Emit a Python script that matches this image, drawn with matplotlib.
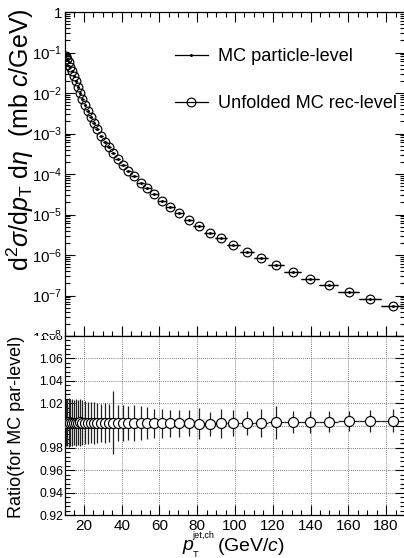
import numpy as np
import matplotlib
matplotlib.use("Agg")
import matplotlib.pyplot as plt
from matplotlib.lines import Line2D
from matplotlib.ticker import FixedLocator, MultipleLocator, NullFormatter
from matplotlib.transforms import Bbox, TransformedBbox

plt.rcParams['font.family'] = ['Liberation Sans', 'DejaVu Sans']
plt.rcParams['mathtext.fontset'] = 'custom'
plt.rcParams['mathtext.rm'] = 'Liberation Sans'
plt.rcParams['mathtext.it'] = 'Liberation Sans:italic'
plt.rcParams['mathtext.sf'] = 'Liberation Sans'

# ============ Data ============
pt_edges = [10.0, 10.71, 11.47, 12.28, 13.15, 14.08, 15.08, 16.15, 17.30, 18.52,
            19.83, 21.24, 22.74, 24.36, 26.08, 27.93, 29.91, 32.03, 34.30, 36.73,
            39.33, 42.12, 45.11, 48.30, 51.73, 55.40, 59.32, 63.53, 68.03, 72.85,
            78.01, 83.54, 89.46, 95.80, 102.59, 109.87, 117.65, 125.99, 134.92,
            144.48, 154.72, 165.69, 177.43, 190.0]

xsec_particle = [8.34e-2, 6.92e-2, 5.70e-2, 4.46e-2, 3.41e-2, 2.57e-2, 1.93e-2,
                 1.374e-2, 1.00e-2, 7.11e-3, 5.14e-3, 3.66e-3, 2.60e-3, 1.79e-3,
                 1.29e-3, 8.83e-4, 6.28e-4, 4.54e-4, 3.30e-4, 2.34e-4, 1.70e-4,
                 1.21e-4, 8.73e-5, 6.10e-5, 4.39e-5, 3.13e-5, 2.15e-5, 1.50e-5,
                 1.06e-5, 7.45e-6, 5.08e-6, 3.56e-6, 2.57e-6, 1.79e-6, 1.21e-6,
                 8.24e-7, 5.75e-7, 3.87e-7, 2.60e-7, 1.82e-7, 1.24e-7, 8.20e-8,
                 5.60e-8]

ratio = [1.0026, 1.0024, 1.0027, 1.0025, 1.0023, 1.0026, 1.0024, 1.0025, 1.0027, 1.0024,
         1.0025, 1.0023, 1.0026, 1.0024, 1.0022, 1.0025, 1.0023, 1.0021, 1.0024, 1.0022,
         1.0020, 1.0022, 1.0019, 1.0020, 1.0021, 1.0019, 1.0020, 1.0018, 1.0019, 1.0020,
         1.0017, 1.0013, 1.0019, 1.0020, 1.0022, 1.0025, 1.0028, 1.0029, 1.0034, 1.0035,
         1.0037, 1.0040, 1.0043]

ratio_err = [0.021, 0.021, 0.022, 0.021, 0.021, 0.020, 0.021, 0.020, 0.021, 0.020,
             0.019, 0.019, 0.018, 0.019, 0.018, 0.017, 0.018, 0.017, 0.028, 0.016,
             0.016, 0.015, 0.016, 0.015, 0.014, 0.013, 0.013, 0.012, 0.012, 0.0117,
             0.0138, 0.0105, 0.0128, 0.0116, 0.011, 0.0125, 0.0146, 0.0098, 0.0098,
             0.0093, 0.009, 0.0095, 0.0105]

log_ticks = [1e-8, 1e-7, 1e-6, 1e-5, 1e-4, 1e-3, 1e-2, 1e-1, 1.0]
log_labels = [r'$10^{-8}$', r'$10^{-7}$', r'$10^{-6}$', r'$10^{-5}$', r'$10^{-4}$',
              r'$10^{-3}$', r'$10^{-2}$', r'$10^{-1}$', '1']
ratio_ticks = [0.92, 0.94, 0.96, 0.98, 1.00, 1.02, 1.04, 1.06, 1.08]
ratio_labels = ['0.92', '0.94', '0.96', '0.98', '', '1.02', '1.04', '1.06', '1.08']

edges = np.array(pt_edges)
centers = 0.5 * (edges[1:] + edges[:-1])
halfw = 0.5 * (edges[1:] - edges[:-1])
xsec_unfolded = np.array(xsec_particle) * np.array(ratio)

# ============ Figure ============
W, H = 404, 558
fig = plt.figure(figsize=(W / 100, H / 100), dpi=100)
split = 1 - 336 / H
ax1 = fig.add_axes([65 / W, split, 340 / W, (336 - 12) / H])
ax2 = fig.add_axes([65 / W, 1 - 515 / H, 340 / W, (515 - 336) / H])

def px(x, y):
    # pixel position (from top-left) -> figure fraction
    return x / W, 1 - y / H

for ax in (ax1, ax2):
    for s in ax.spines.values():
        s.set_linewidth(0.9)
    ax.set_xlim(10, 190)
    ax.xaxis.set_major_locator(MultipleLocator(20))
    ax.xaxis.set_minor_locator(MultipleLocator(5))

# ---- top panel ----
ax1.errorbar(centers, xsec_unfolded, xerr=halfw, fmt='o', ms=6.3, mfc='none',
             mec='k', mew=0.85, color='k', elinewidth=0.9, capsize=0)
ax1.errorbar(centers, xsec_particle, xerr=halfw, fmt='.', ms=2.2, color='k',
             elinewidth=0.9, capsize=0)
ax1.set_yscale('log')
ax1.set_ylim(1e-8, 1)
ax1.yaxis.set_major_locator(FixedLocator(log_ticks))
ax1.set_yticklabels(log_labels)
ax1.yaxis.set_minor_locator(FixedLocator(
    [m * 10.0 ** e for e in range(-8, 0) for m in range(2, 10)]))
ax1.yaxis.set_minor_formatter(NullFormatter())
ax1.tick_params(axis='both', which='major', direction='in', length=7, width=0.8,
                top=True, right=True, labelsize=10.8, pad=2)
ax1.tick_params(axis='both', which='minor', direction='in', length=3.5, width=0.8,
                top=True, right=True)
ax1.tick_params(axis='x', labelbottom=False)

handles = [Line2D([], [], color='k', lw=0.9, marker='.', ms=2.2),
           Line2D([], [], color='k', lw=0.9, marker='o', ms=6.3, mfc='none', mew=0.85)]
ax1.legend(handles, ['MC particle-level', 'Unfolded MC rec-level'],
           loc='upper left', bbox_to_anchor=(0.3235, 0.889), frameon=False,
           borderpad=0, borderaxespad=0, handlelength=1.8, handletextpad=0.55,
           labelspacing=1.67, fontsize=13.1)

# ---- ratio panel ----
ax2.grid(True, which='major', color='#555555', lw=0.6, linestyle=(0, (1, 1.5)))
ax2.errorbar(centers, ratio, xerr=halfw, yerr=ratio_err, fmt='o', ms=7.2,
             mfc='white', mec='k', mew=0.85, color='k', ecolor='#222222',
             elinewidth=0.9, capsize=0, zorder=3)
ax2.set_ylim(0.92, 1.08)
ax2.yaxis.set_major_locator(FixedLocator(ratio_ticks))
ax2.set_yticklabels(ratio_labels)
ax2.yaxis.set_minor_locator(MultipleLocator(0.004))
ax2.tick_params(axis='both', which='major', direction='in', length=7, width=0.8,
                right=True)
ax2.tick_params(axis='both', which='minor', direction='in', length=3.5, width=0.8,
                right=True)
ax2.tick_params(axis='y', labelsize=8.8, pad=1.5)
ax2.tick_params(axis='x', labelsize=11, pad=3)

# clip the labels that meet at the panel boundary
top_clip = TransformedBbox(Bbox([[0, split], [1, 1]]), fig.transFigure)
bot_clip = TransformedBbox(Bbox([[0, 0], [1, split]]), fig.transFigure)
for t in ax1.yaxis.get_major_ticks():
    t.label1.set_clip_box(top_clip)
    t.label1.set_clip_on(True)
for t in ax2.yaxis.get_major_ticks():
    t.label1.set_clip_box(bot_clip)
    t.label1.set_clip_on(True)

# ---- axis titles ----
fig.text(*px(20, 8),
         r'd$^{2}\sigma$/d$p_{\mathrm{T}}\,\,$d$\eta$  (mb $c$/GeV)',
         rotation=90, ha='center', va='top', fontsize=18)
rl = fig.text(*px(17, 518), 'Ratio(for MC par-level)', rotation=90,
              ha='center', va='bottom', fontsize=13)
rl.set_clip_box(bot_clip)
rl.set_clip_on(True)

# x title built ROOT-style: small super/subscripts next to an italic p
fig.text(*px(182, 550), r'$p$', ha='left', va='baseline', fontsize=14)
fig.text(*px(192, 538), 'jet,ch', ha='left', va='baseline', fontsize=6.6)
fig.text(*px(193, 557), 'T', ha='left', va='baseline', fontsize=6.6)
fig.text(*px(217, 551), r'(GeV/$c$)', ha='left', va='baseline', fontsize=14)

fig.savefig('out.png', dpi=100)
